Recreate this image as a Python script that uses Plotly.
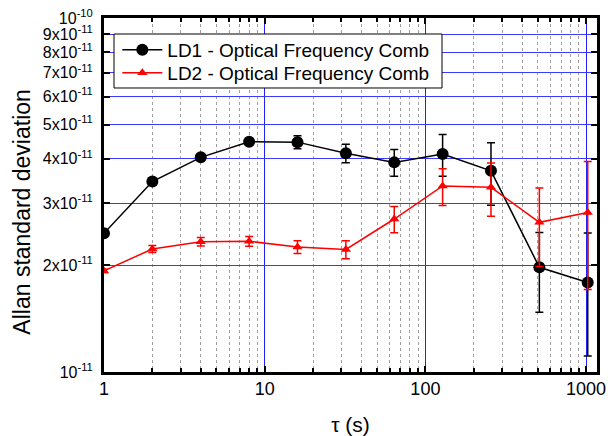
import plotly.graph_objects as go

tau = [1, 2, 4, 8, 16, 32, 64, 128, 256, 512, 1024]

ld1 = [2.465e-11, 3.45e-11, 4.04e-11, 4.47e-11, 4.46e-11, 4.15e-11, 3.91e-11, 4.13e-11, 3.70e-11, 1.976e-11, 1.79e-11]
ld1_err = [0.02e-11, 0.03e-11, 0.05e-11, 0.08e-11, 0.19e-11, 0.25e-11, 0.34e-11, 0.56e-11, 0.74e-11, 0.50e-11, 0.68e-11]

ld2 = [1.93e-11, 2.226e-11, 2.334e-11, 2.34e-11, 2.255e-11, 2.22e-11, 2.705e-11, 3.354e-11, 3.325e-11, 2.647e-11, 2.82e-11]
ld2_err = [0.02e-11, 0.05e-11, 0.065e-11, 0.075e-11, 0.095e-11, 0.13e-11, 0.23e-11, 0.40e-11, 0.57e-11, 0.66e-11, 1.11e-11]

x_ticks = [1, 10, 100, 1000]
x_ticktext = ["1", "10", "100", "1000"]
x_minor = [m * d for d in (1, 10, 100) for m in range(2, 10)]

y_ticks = [1e-11, 2e-11, 3e-11, 4e-11, 5e-11, 6e-11, 7e-11, 8e-11, 9e-11, 1e-10]
y_ticktext = ["10<sup>-11</sup>", "2x10<sup>-11</sup>", "3x10<sup>-11</sup>", "4x10<sup>-11</sup>",
              "5x10<sup>-11</sup>", "6x10<sup>-11</sup>", "7x10<sup>-11</sup>", "8x10<sup>-11</sup>",
              "9x10<sup>-11</sup>", "10<sup>-10</sup>"]

y_title = "Allan standard deviation"
x_title = "τ (s)"

fig = go.Figure()
fig.add_trace(go.Scatter(
    x=tau, y=ld1, mode="lines+markers", name="LD1 - Optical Frequency Comb",
    line=dict(color="black", width=1.5),
    marker=dict(symbol="circle", size=12, color="black"),
    error_y=dict(type="data", array=ld1_err, visible=True, color="black", thickness=1.5, width=4),
    legend="legend",
))
fig.add_trace(go.Scatter(
    x=tau, y=ld2, mode="lines+markers", name="LD2 - Optical Frequency Comb",
    line=dict(color="#ff0000", width=1.5),
    marker=dict(symbol="triangle-up", size=9, color="#ff0000"),
    error_y=dict(type="data", array=ld2_err, visible=True, color="#ff0000", thickness=1.5, width=4),
    legend="legend2",
))

font_family = "Liberation Sans, Arial, sans-serif"
legend_style = dict(
    xanchor="left", yanchor="middle",
    bgcolor="rgba(0,0,0,0)", borderwidth=0,
    font=dict(size=19, family=font_family, color="black"),
    itemwidth=40,
)

fig.update_layout(
    width=608, height=436,
    margin=dict(l=104, r=11, t=18, b=64, autoexpand=False),
    paper_bgcolor="white", plot_bgcolor="white",
    font=dict(family=font_family, color="black", size=16),
    showlegend=True,
    legend=dict(x=0.027, y=0.9096, **legend_style),
    legend2=dict(x=0.027, y=0.8446, **legend_style),
    shapes=[dict(
        type="rect", xref="x domain", yref="y domain",
        x0=0.0203, x1=0.6856, y0=0.8023, y1=0.9548,
        line=dict(color="black", width=1), fillcolor="white", layer="above",
    )],
    xaxis=dict(
        type="log", range=[0, 3.068], automargin=False,
        tickmode="array", tickvals=x_ticks, ticktext=x_ticktext,
        ticks="inside", ticklen=6, tickwidth=2, tickcolor="black",
        showline=True, linewidth=3, linecolor="black", mirror="allticks",
        showgrid=True, gridcolor="#2020ff", gridwidth=1,
        tickfont=dict(size=18),
        ticklabelstandoff=-2,
        zeroline=False,
        minor=dict(tickmode="array", tickvals=x_minor, ticks="inside", ticklen=4,
                   tickwidth=1.5, tickcolor="black", showgrid=True,
                   gridcolor="#a0a0a0", griddash="dot", gridwidth=1),
        title=dict(text=x_title, font=dict(size=21), standoff=24),
    ),
    yaxis=dict(
        type="log", range=[-11, -10], automargin=False,
        tickmode="array", tickvals=y_ticks, ticktext=y_ticktext,
        ticks="inside", ticklen=6, tickwidth=2, tickcolor="black",
        showline=True, linewidth=3, linecolor="black", mirror="allticks",
        showgrid=True, gridcolor="#3a3aff", gridwidth=1,
        tickfont=dict(size=16),
        ticklabelstandoff=5,
        zeroline=False,
    ),
    annotations=[dict(
        text=y_title, textangle=-90, showarrow=False,
        xref="paper", yref="paper", x=-0.166, y=0.4534,
        xanchor="center", yanchor="middle",
        font=dict(size=23, family=font_family, color="black"),
    )],
)

fig.write_html("out.html")
